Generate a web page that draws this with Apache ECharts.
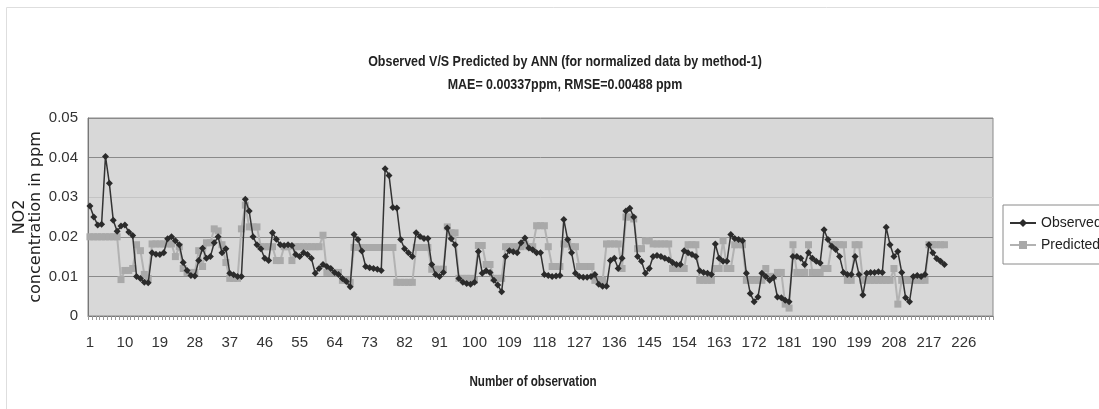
<!DOCTYPE html>
<html>
<head>
<meta charset="utf-8">
<title>Observed V/S Predicted by ANN</title>
<script src="https://cdn.jsdelivr.net/npm/echarts@6.0.0/dist/echarts.min.js"></script>
<style>
  html, body { margin: 0; padding: 0; background: #fff; }
  #chart { width: 1099px; height: 409px; }
</style>
</head>
<body>
<div id="chart"></div>
<script>
// category axis runs a little past the data, as in the original sheet
const categoryCount = 233;
const categories = Array.from({length: categoryCount}, (_, i) => String(i + 1));

// NO2 concentration (ppm)
const observed = [
  0.0278, 0.0250, 0.0230, 0.0232, 0.0403, 0.0335, 0.0242, 0.0214, 0.0227, 0.0230,
  0.0212, 0.0203, 0.0100, 0.0095, 0.0085, 0.0084, 0.0160, 0.0156, 0.0155, 0.0160,
  0.0195, 0.0200, 0.0190, 0.0180, 0.0135, 0.0115, 0.0102, 0.0101, 0.0140, 0.0171,
  0.0146, 0.0150, 0.0185, 0.0200, 0.0160, 0.0170, 0.0108, 0.0104, 0.0100, 0.0100,
  0.0295, 0.0265, 0.0200, 0.0180, 0.0170, 0.0146, 0.0140, 0.0210, 0.0194, 0.0180,
  0.0178, 0.0180, 0.0178, 0.0155, 0.0150, 0.0160, 0.0155, 0.0146, 0.0108, 0.0120,
  0.0130, 0.0125, 0.0120, 0.0110, 0.0105, 0.0095, 0.0087, 0.0074, 0.0206, 0.0193,
  0.0164, 0.0125, 0.0122, 0.0120, 0.0118, 0.0115, 0.0372, 0.0355, 0.0274, 0.0273,
  0.0193, 0.0170, 0.0160, 0.0150, 0.0210, 0.0201, 0.0196, 0.0196, 0.0130, 0.0105,
  0.0100, 0.0110, 0.0222, 0.0195, 0.0180, 0.0095, 0.0085, 0.0082, 0.0080, 0.0085,
  0.0163, 0.0108, 0.0114, 0.0110, 0.0090, 0.0078, 0.0061, 0.0150, 0.0165, 0.0162,
  0.0160, 0.0185, 0.0197, 0.0172, 0.0167, 0.0160, 0.0160, 0.0105, 0.0102, 0.0100,
  0.0101, 0.0102, 0.0244, 0.0193, 0.0160, 0.0108, 0.0100, 0.0098, 0.0098, 0.0100,
  0.0105, 0.0080, 0.0075, 0.0075, 0.0140, 0.0146, 0.0120, 0.0146, 0.0265, 0.0272,
  0.0250, 0.0150, 0.0138, 0.0108, 0.0120, 0.0150, 0.0153, 0.0150, 0.0146, 0.0142,
  0.0135, 0.0130, 0.0130, 0.0165, 0.0160, 0.0155, 0.0150, 0.0114, 0.0110, 0.0108,
  0.0105, 0.0182, 0.0146, 0.0138, 0.0138, 0.0206, 0.0196, 0.0193, 0.0190, 0.0108,
  0.0057, 0.0036, 0.0048, 0.0108, 0.0100, 0.0090, 0.0097, 0.0048, 0.0046, 0.0040,
  0.0036, 0.0150, 0.0150, 0.0146, 0.0130, 0.0160, 0.0146, 0.0138, 0.0134, 0.0218,
  0.0193, 0.0176, 0.0168, 0.0150, 0.0110, 0.0105, 0.0105, 0.0150, 0.0105, 0.0053,
  0.0108, 0.0110, 0.0110, 0.0112, 0.0110, 0.0224, 0.0180, 0.0150, 0.0163, 0.0110,
  0.0046, 0.0036, 0.0100, 0.0102, 0.0100, 0.0105, 0.0180, 0.0160, 0.0145, 0.0138,
  0.0130
];

const predicted = [
  0.0200, 0.0200, 0.0200, 0.0200, 0.0200, 0.0200, 0.0200, 0.0200, 0.0092, 0.0115,
  0.0115, 0.0120, 0.0180, 0.0165, 0.0105, 0.0095, 0.0182, 0.0182, 0.0182, 0.0182,
  0.0182, 0.0182, 0.0150, 0.0175, 0.0120, 0.0110, 0.0110, 0.0110, 0.0165, 0.0125,
  0.0185, 0.0185, 0.0220, 0.0215, 0.0180, 0.0135, 0.0095, 0.0095, 0.0095, 0.0220,
  0.0280, 0.0225, 0.0225, 0.0225, 0.0175, 0.0175, 0.0175, 0.0175, 0.0140, 0.0140,
  0.0175, 0.0175, 0.0140, 0.0175, 0.0175, 0.0175, 0.0175, 0.0175, 0.0175, 0.0175,
  0.0204, 0.0110, 0.0110, 0.0110, 0.0110, 0.0090, 0.0090, 0.0085, 0.0173, 0.0173,
  0.0173, 0.0173, 0.0173, 0.0173, 0.0173, 0.0173, 0.0173, 0.0173, 0.0173, 0.0085,
  0.0085, 0.0085, 0.0085, 0.0085, 0.0173, 0.0173, 0.0173, 0.0173, 0.0118, 0.0118,
  0.0118, 0.0118, 0.0225, 0.0210, 0.0210, 0.0095, 0.0095, 0.0095, 0.0095, 0.0090,
  0.0178, 0.0178, 0.0130, 0.0130, 0.0095, 0.0095, 0.0095, 0.0175, 0.0175, 0.0175,
  0.0175, 0.0175, 0.0182, 0.0175, 0.0175, 0.0228, 0.0228, 0.0228, 0.0175, 0.0125,
  0.0125, 0.0125, 0.0182, 0.0182, 0.0175, 0.0175, 0.0125, 0.0125, 0.0125, 0.0125,
  0.0090, 0.0090, 0.0090, 0.0182, 0.0182, 0.0182, 0.0182, 0.0120, 0.0250, 0.0250,
  0.0245, 0.0170, 0.0170, 0.0190, 0.0190, 0.0182, 0.0182, 0.0182, 0.0182, 0.0182,
  0.0120, 0.0120, 0.0120, 0.0120, 0.0180, 0.0180, 0.0180, 0.0090, 0.0090, 0.0090,
  0.0090, 0.0120, 0.0120, 0.0190, 0.0120, 0.0120, 0.0180, 0.0180, 0.0180, 0.0090,
  0.0090, 0.0090, 0.0090, 0.0090, 0.0120, 0.0100, 0.0100, 0.0110, 0.0110, 0.0030,
  0.0020, 0.0180, 0.0110, 0.0110, 0.0110, 0.0180, 0.0110, 0.0110, 0.0110, 0.0120,
  0.0120, 0.0180, 0.0180, 0.0180, 0.0180, 0.0090, 0.0090, 0.0180, 0.0180, 0.0090,
  0.0090, 0.0090, 0.0090, 0.0090, 0.0090, 0.0090, 0.0090, 0.0120, 0.0030, 0.0090,
  0.0090, 0.0090, 0.0090, 0.0090, 0.0090, 0.0090, 0.0180, 0.0180, 0.0180, 0.0180,
  0.0180
];

const titleLines = [
  'Observed V/S Predicted by ANN (for normalized data by method-1)',
  'MAE= 0.00337ppm, RMSE=0.00488 ppm'
];

const sans = "'Liberation Sans', Arial, sans-serif";
// the original uses a narrow face; squeeze Liberation Sans to get close
const narrowScale = 0.83;

const chart = echarts.init(document.getElementById('chart'), null, {renderer: 'canvas'});

function squeezedText(text, x, y, size, weight) {
  return {
    type: 'text',
    x: x,
    y: y,
    scaleX: narrowScale,
    silent: true,
    style: {
      text: text,
      fontFamily: sans,
      fontSize: size,
      fontWeight: weight,
      fill: '#222',
      align: 'center',
      verticalAlign: 'middle'
    }
  };
}

const option = {
  animation: false,
  backgroundColor: '#ffffff',
  legend: {
    orient: 'vertical',
    left: 1003,
    top: 205,
    padding: [11, 40, 12, 6],
    itemGap: 8,
    itemWidth: 26,
    itemHeight: 10,
    backgroundColor: '#ffffff',
    borderColor: '#8a8a8a',
    borderWidth: 1,
    borderRadius: 0,
    textStyle: {fontFamily: sans, fontSize: 14, color: '#222'},
    data: ['Observed', 'Predicted']
  },
  grid: {
    left: 88,
    right: 106,
    top: 118,
    bottom: 93,
    containLabel: false,
    outerBoundsMode: 'none',
    show: true,
    backgroundColor: '#d8d8d8',
    borderColor: '#8a8a8a',
    borderWidth: 1
  },
  xAxis: {
    type: 'category',
    data: categories,
    boundaryGap: true,
    axisLine: {show: true, lineStyle: {color: '#777', width: 1}},
    axisTick: {show: true, interval: 0, length: 4, lineStyle: {color: '#999'}},
    axisLabel: {
      interval: 8,
      margin: 19,
      fontFamily: sans,
      fontSize: 15,
      color: '#333'
    },
    splitLine: {show: false}
  },
  yAxis: {
    type: 'value',
    min: 0,
    max: 0.05,
    interval: 0.01,
    name: 'NO2\nconcentration in ppm',
    nameLocation: 'middle',
    nameRotate: 90,
    nameGap: 44,
    nameMoveOverlap: false,
    nameTextStyle: {fontFamily: 'DejaVu Sans', fontSize: 16, lineHeight: 16, color: '#222'},
    axisLine: {show: true, lineStyle: {color: '#777', width: 1}},
    axisTick: {show: false},
    axisLabel: {
      margin: 10,
      fontFamily: sans,
      fontSize: 15,
      color: '#333'
    },
    splitLine: {
      show: true,
      lineStyle: {color: ['#8a8a8a', '#8a8a8a', '#8a8a8a', '#c4c4c4', '#8a8a8a', '#8a8a8a'], width: 1}
    }
  },
  series: [
    {
      name: 'Observed',
      type: 'line',
      data: observed,
      z: 4,
      symbol: 'diamond',
      symbolSize: 7,
      showAllSymbol: true,
      itemStyle: {color: '#2b2b2b'},
      lineStyle: {color: '#333333', width: 1.5}
    },
    {
      name: 'Predicted',
      type: 'line',
      data: predicted,
      z: 3,
      symbol: 'rect',
      symbolSize: 7,
      showAllSymbol: true,
      itemStyle: {color: '#a9a9a9'},
      lineStyle: {color: '#b2b2b2', width: 2}
    }
  ],
  graphic: [
    {
      type: 'rect',
      left: 4,
      top: 5,
      shape: {width: 1100, height: 403},
      style: {fill: 'none', stroke: '#dedede', lineWidth: 1},
      silent: true,
      z: -10
    },
    squeezedText(titleLines[0], 565, 62, 15, 'bold'),
    squeezedText(titleLines[1], 565, 85, 15, 'bold'),
    squeezedText('Number of observation', 533, 382, 14, 'bold')
  ]
};

chart.setOption(option);
</script>
</body>
</html>
